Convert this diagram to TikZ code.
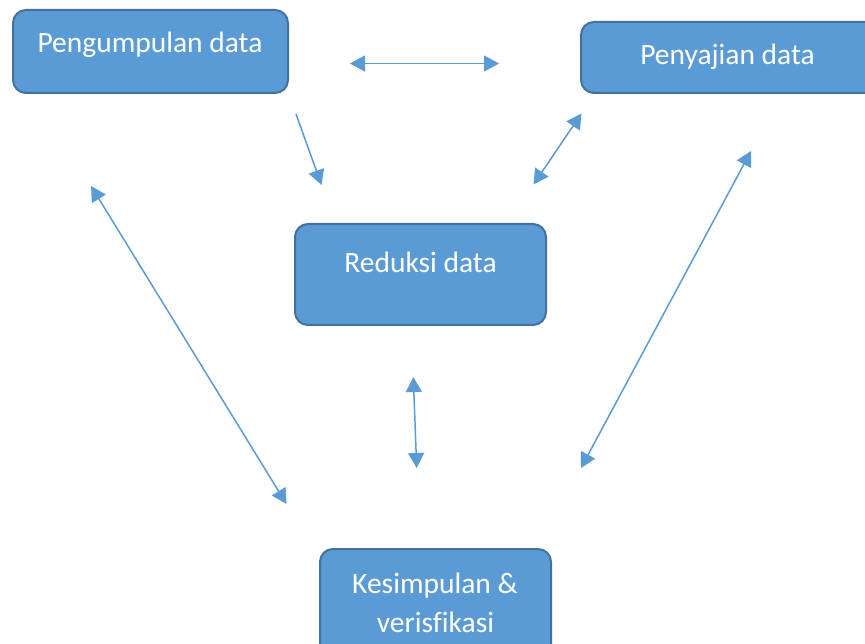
\documentclass[tikz,border=0pt]{standalone}
\usepackage{fontspec}
\setmainfont[Ligatures=CommonOff]{Carlito}
\usetikzlibrary{arrows.meta}
\definecolor{boxfill}{HTML}{5B9BD5}
\definecolor{boxedge}{HTML}{41719C}
\tikzset{
  stagebox/.style={draw=boxedge, line width=2pt, fill=boxfill, rounded corners=13pt},
  stagetext/.style={anchor=base, text=white, inner sep=0pt, font=\fontsize{29.5}{39}\selectfont},
  flow/.style={draw=boxfill, line width=1.5pt, -{Triangle[length=15pt,width=16pt]}},
  twoway/.style={draw=boxfill, line width=1.5pt, {Triangle[length=15pt,width=16pt]}-{Triangle[length=15pt,width=16pt]}}
}
\begin{document}
\begin{tikzpicture}[x=1pt,y=-1pt]
  \clip (0,0) rectangle (865,644);
  \fill[white] (0,0) rectangle (865,644);

  % stage boxes
  \draw[stagebox] (13,10) rectangle (288,93) coordinate (boxA);
  \draw[stagebox] (581,22) rectangle (890,93) coordinate (boxB);
  \draw[stagebox] (295,224) rectangle (546,325) coordinate (boxC);
  \draw[stagebox] (320,549) rectangle (551,670) coordinate (boxD);

  % labels
  \node[stagetext] (tA) at (150,53) {Pengumpulan data};
  \node[stagetext] (tB) at (727.5,65) {Penyajian data};
  \node[stagetext] (tC) at (420.5,273) {Reduksi data};
  \node[stagetext] (tD1) at (435,593) {Kesimpulan \&};
  \node[stagetext] (tD2) at (435.5,632) {verisfikasi};

  % free arrow ends
  \coordinate (h1) at (350,63.5);
  \coordinate (h2) at (499,63.5);
  \coordinate (s1) at (296,114);
  \coordinate (s2) at (321.5,185);
  \coordinate (r1) at (581.5,113.5);
  \coordinate (r2) at (533.5,184.5);
  \coordinate (l1) at (91,186);
  \coordinate (l2) at (286.5,504);
  \coordinate (q1) at (751,151);
  \coordinate (q2) at (581,468);
  \coordinate (v1) at (413.3,377);
  \coordinate (v2) at (416.7,468);

  % connectors
  \draw[twoway] (h1) -- (h2);
  \draw[flow] (s1) -- (s2);
  \draw[twoway] (r1) -- (r2);
  \draw[twoway] (l1) -- (l2);
  \draw[twoway] (q1) -- (q2);
  \draw[twoway] (v1) -- (v2);
\end{tikzpicture}
\end{document}
